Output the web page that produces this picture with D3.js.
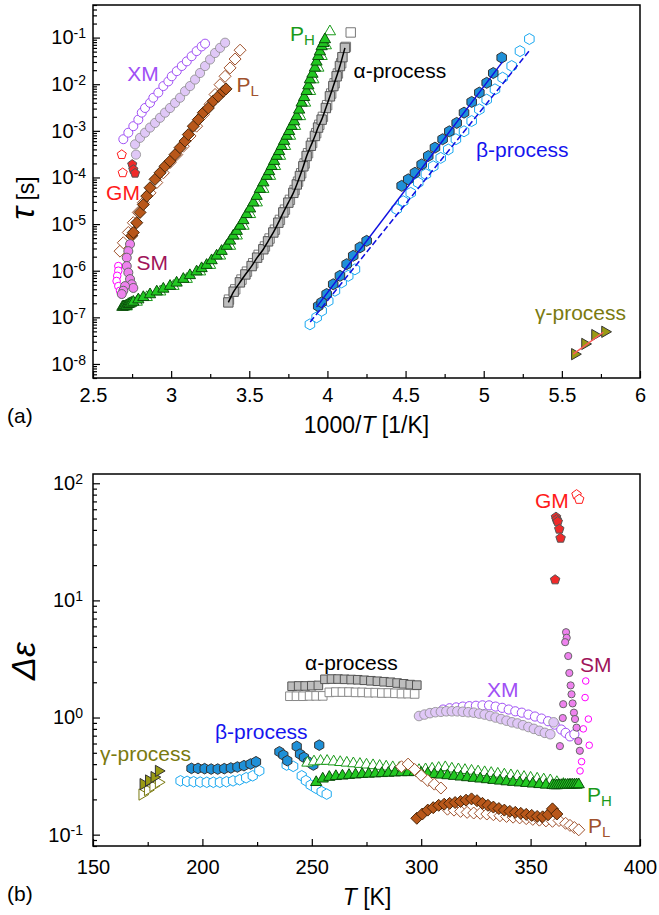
<!DOCTYPE html>
<html>
<head>
<meta charset="utf-8">
<script src="https://cdn.jsdelivr.net/npm/d3@7"></script>
<style>
  body { margin: 0; background: #fff; }
</style>
</head>
<body>
<div id="chart"></div>
<script>
// ---------- tick labels ----------
const topXTicks = [2.5, 3, 3.5, 4, 4.5, 5, 5.5, 6];
const topXMinor = [2.75, 3.25, 3.75, 4.25, 4.75, 5.25, 5.75];
const topYExp = [-8, -7, -6, -5, -4, -3, -2, -1];
const botXTicks = [150, 200, 250, 300, 350, 400];
const botXMinor = [175, 225, 275, 325, 375];
const botYExp = [-1, 0, 1, 2];

// ---------- panel (a): 1000/T [1/K] vs log10(tau [s]) ----------
const xmOpenX = [2.694,2.726,2.758,2.790,2.812,2.833,2.865,2.886,2.918,2.950,2.982,3.004,3.036,3.068,3.100,3.131,3.163,3.195,3.217];
const xmOpenLogTau = [-3.18,-3.04,-2.90,-2.76,-2.61,-2.51,-2.40,-2.29,-2.18,-2.04,-1.94,-1.83,-1.72,-1.61,-1.51,-1.40,-1.29,-1.19,-1.13];
const xmFillX = [2.775,2.769,2.801,2.833,2.865,2.897,2.929,2.961,2.993,3.025,3.057,3.089,3.121,3.153,3.185,3.217,3.249,3.281,3.313,3.345];
const xmFillLogTau = [-3.51,-3.29,-3.15,-3.04,-2.93,-2.83,-2.72,-2.61,-2.51,-2.40,-2.29,-2.15,-2.04,-1.90,-1.76,-1.61,-1.47,-1.33,-1.22,-1.11];

const gmOpenX = [2.684, 2.690];
const gmOpenLogTau = [-3.51, -3.90];
const gmFillX = [2.751, 2.758, 2.769];
const gmFillLogTau = [-3.72, -3.83, -3.91];

const plOpenX = [2.673,2.694,2.726,2.758,2.790,2.822,2.865,2.908,2.950,2.993,3.036,3.078,3.121,3.163,3.206,3.249,3.281,3.313,3.345,3.377,3.409,3.441];
const plOpenLogTau = [-5.58,-5.40,-5.18,-4.97,-4.75,-4.54,-4.33,-4.11,-3.90,-3.68,-3.51,-3.33,-3.11,-2.90,-2.65,-2.43,-2.22,-2.01,-1.83,-1.65,-1.46,-1.27];
const plFillX = [2.748,2.758,2.780,2.801,2.822,2.844,2.865,2.897,2.929,2.961,2.993,3.025,3.057,3.089,3.110,3.142,3.174,3.206,3.238,3.270,3.302,3.334,3.351];
const plFillLogTau = [-5.25,-5.18,-4.97,-4.75,-4.58,-4.40,-4.22,-4.04,-3.90,-3.76,-3.65,-3.51,-3.36,-3.22,-3.08,-2.90,-2.76,-2.61,-2.51,-2.36,-2.26,-2.15,-2.10];

const smOpenX = [2.662,2.662,2.655,2.651,2.662,2.673];
const smOpenLogTau = [-5.90,-6.00,-6.11,-6.22,-6.33,-6.43];
const smFillX = [2.737,2.726,2.716,2.716,2.726,2.737,2.748,2.758,2.705,2.694,2.684];
const smFillLogTau = [-5.43,-5.58,-5.72,-5.90,-6.04,-6.18,-6.29,-6.37,-6.33,-6.43,-6.50];

const phOpenX = [2.716,2.780,2.844,2.930,3.015,3.100,3.185,3.249,3.313,3.377,3.420,3.463,3.505,3.548,3.590,3.633,3.665,3.697,3.729,3.761,3.793,3.825,3.857,3.889,3.910,3.942,3.963,3.990,4.016];
const phOpenLogTau = [-6.77,-6.67,-6.57,-6.45,-6.33,-6.18,-6.02,-5.88,-5.68,-5.47,-5.25,-5.04,-4.79,-4.54,-4.25,-3.97,-3.76,-3.54,-3.33,-3.11,-2.90,-2.69,-2.40,-2.15,-1.90,-1.65,-1.40,-1.17,-0.87];
const phFillX = [2.688,2.694,2.700,2.710,2.715,2.726,2.735,2.745,2.758,2.790,2.822,2.865,2.908,2.950,2.993,3.035,3.078,3.120,3.163,3.195,3.227,3.259,3.291,3.323,3.355,3.377,3.398,3.420,3.441,3.462,3.483,3.505,3.526,3.547,3.568,3.590,3.611,3.627,3.643,3.659,3.675,3.691,3.707,3.723,3.739,3.755,3.771,3.787,3.803,3.819,3.835,3.851,3.867,3.878,3.888,3.904,3.920,3.930,3.941,3.952,3.963,3.974,3.984];
const phFillLogTau = [-6.78,-6.77,-6.77,-6.76,-6.75,-6.72,-6.71,-6.69,-6.67,-6.62,-6.57,-6.51,-6.45,-6.39,-6.33,-6.26,-6.18,-6.10,-6.02,-5.95,-5.88,-5.78,-5.68,-5.58,-5.47,-5.36,-5.25,-5.15,-5.04,-4.92,-4.79,-4.67,-4.54,-4.40,-4.25,-4.11,-3.97,-3.87,-3.76,-3.65,-3.54,-3.44,-3.33,-3.22,-3.11,-3.01,-2.90,-2.80,-2.69,-2.55,-2.40,-2.28,-2.15,-2.03,-1.90,-1.78,-1.65,-1.52,-1.40,-1.30,-1.19,-1.12,-1.04];

const alphaOpenX = [3.37,3.41,3.45,3.485,3.525,3.56,3.60,3.63,3.664,3.696,3.728,3.76,3.79,3.812,3.832,3.854,3.876,3.902,3.928,3.948,3.971,3.998,4.024,4.046,4.067,4.088,4.118,4.149];
const alphaOpenLogTau = [-6.62,-6.40,-6.19,-6.02,-5.84,-5.66,-5.48,-5.31,-5.12,-4.91,-4.69,-4.48,-4.27,-4.09,-3.91,-3.70,-3.48,-3.26,-3.05,-2.87,-2.70,-2.45,-2.20,-1.98,-1.77,-1.55,-1.20,-0.89];
const alphaFillX = [3.366,3.40,3.44,3.475,3.515,3.55,3.59,3.62,3.654,3.686,3.718,3.75,3.782,3.804,3.824,3.846,3.867,3.894,3.920,3.94,3.963,3.99,4.016,4.038,4.059,4.080,4.096,4.112];
const alphaFillLogTau = [-6.68,-6.45,-6.25,-6.08,-5.90,-5.72,-5.54,-5.37,-5.18,-4.97,-4.75,-4.54,-4.33,-4.15,-3.97,-3.76,-3.54,-3.32,-3.11,-2.93,-2.76,-2.51,-2.26,-2.04,-1.83,-1.61,-1.42,-1.22];

const betaOpenX = [3.888,3.931,3.963,4.005,4.048,4.091,4.133,4.176,4.443,4.485,4.533,4.581,4.630,4.677,4.725,4.773,4.822,4.874,4.923,4.972,5.019,5.072,5.121,5.179,5.232,5.292];
const betaOpenLogTau = [-7.15,-7.00,-6.86,-6.65,-6.43,-6.25,-6.11,-5.97,-4.68,-4.51,-4.33,-4.11,-3.93,-3.76,-3.58,-3.40,-3.18,-3.01,-2.79,-2.54,-2.33,-2.11,-1.86,-1.61,-1.29,-1.03];
const betaFillX = [3.941,3.963,3.995,4.037,4.080,4.123,4.165,4.208,4.251,4.475,4.517,4.560,4.603,4.645,4.688,4.737,4.780,4.827,4.874,4.923,4.972,5.019,5.061,5.115];
const betaFillLogTau = [-6.76,-6.68,-6.50,-6.29,-6.11,-5.86,-5.68,-5.50,-5.36,-4.18,-4.04,-3.90,-3.72,-3.54,-3.36,-3.18,-3.01,-2.83,-2.61,-2.38,-2.18,-1.97,-1.76,-1.43];

const gammaFillX = [5.583, 5.648, 5.712, 5.776];
const gammaFillLogTau = [-7.79, -7.57, -7.38, -7.31];

// fit lines
const betaFitX = [3.93, 5.12];
const betaFitLogTau = [-6.78, -1.52];
const betaOpenFitX = [3.89, 5.29];
const betaOpenFitLogTau = [-7.10, -1.29];
const gammaFitX = [5.573, 5.765];
const gammaFitLogTau = [-7.79, -7.32];

// ---------- panel (b): T [K] vs delta epsilon ----------
const gammaOpenT = [172.5, 175, 177.5, 180];
const gammaOpenDe = [0.22, 0.24, 0.26, 0.28];
const gammaFillT = [173, 175.5, 178, 180];
const gammaFillDe = [0.27, 0.29, 0.31, 0.35];

const betaOpenT = [190,193,196,199,202,205,208,211,214,217,220,223,226,238.5,241.5,245.4,247.3,249.5,251.9,254.5,256.8];
const betaOpenDe = [0.288,0.285,0.283,0.281,0.28,0.28,0.28,0.283,0.288,0.294,0.306,0.318,0.351,0.393,0.383,0.318,0.289,0.265,0.249,0.233,0.222];
const betaFillT = [195,198,201,204,207,210,213,216,219,222,224.5,235.2,237,238.8,243.1,244.6,246.4,248.4,250.7,253.4];
const betaFillDe = [0.368,0.368,0.366,0.363,0.363,0.366,0.371,0.378,0.388,0.401,0.419,0.51,0.478,0.428,0.567,0.487,0.457,0.419,0.393,0.581];

const alphaOpenT = [240,243,246,249,252,255,258,261,264,267,270,273,276,279,282,285,288,291,294,297];
const alphaOpenDe = [1.52,1.52,1.52,1.53,1.53,1.53,1.64,1.65,1.65,1.65,1.64,1.64,1.63,1.63,1.62,1.62,1.61,1.60,1.60,1.59];
const alphaFillT = [241,244,247,250,253,256,259,262,265,268,271,274,277,280,283,286,289,292,295,298];
const alphaFillDe = [1.85,1.86,1.86,1.87,1.88,2.12,2.13,2.13,2.12,2.11,2.10,2.08,2.06,2.04,2.02,2.00,1.97,1.94,1.91,1.89];

const phOpenT = [248,251,254,257,260,263,266,269,272,275,278,281,284,287,290,293,296,299,302,305,308,311,314,317,320,323,326,329,332,335,338,341,344,347,350,353,356,359,362,365,368,371];
const phOpenDe = [0.41,0.42,0.425,0.425,0.42,0.415,0.41,0.405,0.40,0.395,0.39,0.385,0.38,0.375,0.37,0.365,0.36,0.355,0.36,0.365,0.37,0.375,0.365,0.36,0.355,0.35,0.345,0.34,0.335,0.33,0.325,0.32,0.315,0.31,0.305,0.30,0.295,0.29,0.28,0.27,0.265,0.265];
const phFillT = [252,255,258,261,264,267,270,273,276,279,282,285,288,291,294,297,300,303,306,309,312,315,318,321,324,327,330,333,336,339,342,345,348,351,354,357,360,361,362,363,364,365,366,367,368,369,370,371,372];
const phFillDe = [0.28,0.30,0.31,0.315,0.318,0.322,0.325,0.328,0.33,0.332,0.334,0.336,0.338,0.34,0.34,0.342,0.336,0.332,0.328,0.324,0.32,0.316,0.312,0.308,0.304,0.30,0.296,0.292,0.288,0.284,0.281,0.278,0.275,0.272,0.269,0.266,0.264,0.263,0.263,0.264,0.264,0.265,0.265,0.266,0.266,0.267,0.267,0.268,0.268];

const plOpenT = [291,294,297,300,303,306,309,312,315,318,321,324,327,330,333,336,339,342,345,348,351,354,357,360,363,366,368,370,372];
const plOpenDe = [0.38,0.40,0.36,0.32,0.29,0.27,0.25,0.165,0.162,0.158,0.155,0.153,0.152,0.15,0.148,0.145,0.143,0.141,0.139,0.137,0.135,0.133,0.131,0.13,0.132,0.125,0.12,0.115,0.11];
const plFillT = [298,300.5,303,305.5,308,310.5,313,315.5,318,320.5,323,325.5,328,330.5,333,335.5,338,340.5,343,345.5,348,350.5,353,355.5,358,360,362];
const plFillDe = [0.138,0.15,0.162,0.17,0.178,0.182,0.185,0.188,0.192,0.197,0.202,0.195,0.185,0.178,0.172,0.167,0.162,0.158,0.155,0.152,0.149,0.146,0.143,0.142,0.148,0.166,0.15];

const xmOpenT = [310,313,316,319,322,325,328,331,334,337,340,343,346,349,352,355,358,361,364,366,368,370];
const xmOpenDe = [1.17,1.20,1.22,1.24,1.25,1.26,1.27,1.27,1.24,1.21,1.17,1.13,1.10,1.06,1.02,0.98,0.93,0.87,0.79,0.74,0.69,0.72];
const xmFillT = [299,301.5,304,306.5,309,311.5,314,316.5,319,321.5,324,326.5,329,331.5,334,336.5,339,341.5,344,346.5,349,351.5,354,356.5,359,360.5];
const xmFillDe = [1.03,1.06,1.09,1.11,1.12,1.13,1.13,1.13,1.12,1.11,1.10,1.08,1.06,1.03,1.00,0.97,0.94,0.91,0.89,0.86,0.83,0.80,0.77,0.74,0.72,0.91];

const smOpenT = [375.2,374.9,376.4,374.1,376.8,373.3,372.6];
const smOpenDe = [2.05,1.48,0.97,0.80,0.58,0.42,0.35];
const smFillT = [366.2,366.5,365.8,367.2,367.7,368.3,368.7,364.9,369.2,364.7,369.8,370.3,371,363.4,371.8,372.5];
const smFillDe = [5.35,4.8,4.4,3.35,2.4,1.88,1.58,1.30,1.32,0.99,1.10,0.97,0.82,0.57,0.63,0.52];

const gmOpenT = [371, 372.2];
const gmOpenDe = [80, 73];
const gmFillT = [361.6,361.9,362.4,363.1,363.7,361.2];
const gmFillDe = [51.4,49,47,40.6,34,15.0];

// ---------- layout ----------
const FONT = '"Liberation Sans", Arial, Helvetica, sans-serif';
let width = 659, height = 915;
let left = 93, right = 640;

let svg = d3.select("#chart").append("svg")
  .attr("width", width)
  .attr("height", height)
  .attr("font-family", FONT);

let xTop = d3.scaleLinear().domain([2.5, 6]).range([left, right]);
let yTop = d3.scaleLog().domain([5e-9, 0.5]).range([378, 5]);
let xBot = d3.scaleLinear().domain([150, 400]).range([left, right]);
let yBot = d3.scaleLog().domain([0.08, 120]).range([846, 474]);

// marker shapes around (0,0)
function poly(n, r, rot) {
  let p = d3.range(n).map(i => {
    let a = rot + i * 2 * Math.PI / n;
    return [(r * Math.sin(a)).toFixed(2), (-r * Math.cos(a)).toFixed(2)];
  });
  return "M" + p.join("L") + "Z";
}
let shapes = {
  circle: r => `M${r},0A${r},${r} 0 1,1 ${-r},0A${r},${r} 0 1,1 ${r},0Z`,
  square: r => poly(4, r * Math.SQRT2, Math.PI / 4),
  diamond: r => poly(4, r, 0),
  triangle: r => poly(3, r, 0),
  triRight: r => poly(3, r, Math.PI / 2),
  hexagon: r => poly(6, r, 0),
  pentagon: r => poly(5, r, 0)
};

let tau = v => Math.pow(10, v);

function points(xs, ys, xs2, ys2, shape, r, fill, stroke, sw) {
  svg.append("g").selectAll("path")
    .data(xs.map((x, i) => [x, ys[i]]))
    .join("path")
    .attr("transform", d => `translate(${xs2(d[0])},${ys2(d[1])})`)
    .attr("d", shapes[shape](r))
    .attr("fill", fill)
    .attr("stroke", stroke)
    .attr("stroke-width", sw || 1);
}

function axes(x, y, y0, y1, xTicks, xMinor, yExp, xPad, yPad) {
  svg.append("g").attr("transform", `translate(0,${y1})`)
    .call(d3.axisBottom(x).tickValues(xMinor).tickSize(-4).tickSizeOuter(0).tickFormat(""))
    .call(g => g.select(".domain").remove())
    .call(g => g.selectAll("line").attr("stroke-width", 1.2));
  svg.append("g").attr("transform", `translate(0,${y1})`)
    .call(d3.axisBottom(x).tickValues(xTicks).tickSize(-7).tickSizeOuter(0)
      .tickPadding(xPad).tickFormat(d3.format("~g")))
    .call(g => g.select(".domain").remove())
    .call(g => g.selectAll("line").attr("stroke-width", 1.2))
    .attr("font-size", 20).attr("font-family", FONT);

  let minor = y.ticks(30).filter(v => Math.abs(Math.log10(v) - Math.round(Math.log10(v))) > 1e-6);
  svg.append("g").attr("transform", `translate(${left},0)`)
    .call(d3.axisLeft(y).tickValues(minor).tickSize(-4).tickSizeOuter(0).tickFormat(""))
    .call(g => g.select(".domain").remove())
    .call(g => g.selectAll("line").attr("stroke-width", 1.2));
  let gy = svg.append("g").attr("transform", `translate(${left},0)`)
    .call(d3.axisLeft(y).tickValues(yExp.map(e => Math.pow(10, e))).tickSize(-7)
      .tickSizeOuter(0).tickPadding(yPad).tickFormat(""))
    .call(g => g.select(".domain").remove())
    .call(g => g.selectAll("line").attr("stroke-width", 1.2))
    .attr("font-size", 20).attr("font-family", FONT);
  gy.selectAll(".tick text").each(function(d) {
    let t = d3.select(this);
    t.append("tspan").text("10");
    t.append("tspan").attr("dy", "-0.45em").attr("font-size", 14)
      .text(Math.round(Math.log10(d)));
  });

  svg.append("rect")
    .attr("x", left).attr("y", y0)
    .attr("width", right - left).attr("height", y1 - y0)
    .attr("fill", "none").attr("stroke", "#000").attr("stroke-width", 1.5);
}

function label(x, y, txt, color, size, sub) {
  let t = svg.append("text").attr("x", x).attr("y", y)
    .attr("fill", color).attr("font-size", size).text(txt);
  if (sub) t.append("tspan").attr("dy", 4).attr("font-size", 15).text(sub);
  return t;
}

// ================= panel (a) =================
points(plOpenX, plOpenLogTau.map(tau), xTop, yTop, "diamond", 6, "#fff", "#a0522d");
points(plFillX, plFillLogTau.map(tau), xTop, yTop, "diamond", 6, "#b8571a", "#4a2608");
points(phOpenX, phOpenLogTau.map(tau), xTop, yTop, "triangle", 6.5, "#fff", "#1a9a1a");
points(phFillX, phFillLogTau.map(tau), xTop, yTop, "triangle", 6.5, "#22c822", "#0b4f0b");
points(alphaOpenX, alphaOpenLogTau.map(tau), xTop, yTop, "square", 4.7, "#fff", "#777");
points(alphaFillX, alphaFillLogTau.map(tau), xTop, yTop, "square", 4.7, "#bdbdbd", "#555");

svg.append("path")
  .datum(alphaFillX.map((x, i) => [x, tau(alphaFillLogTau[i])]))
  .attr("d", d3.line().x(d => xTop(d[0])).y(d => yTop(d[1])).curve(d3.curveMonotoneX))
  .attr("fill", "none").attr("stroke", "#000").attr("stroke-width", 1.5);

points(betaOpenX, betaOpenLogTau.map(tau), xTop, yTop, "hexagon", 5.5, "#fff", "#1aa8f0");
points(betaFillX, betaFillLogTau.map(tau), xTop, yTop, "hexagon", 5.5, "#1e90d8", "#333");

svg.append("path")
  .datum(betaFitX.map((x, i) => [x, tau(betaFitLogTau[i])]))
  .attr("d", d3.line().x(d => xTop(d[0])).y(d => yTop(d[1])))
  .attr("fill", "none").attr("stroke", "#1010e0").attr("stroke-width", 1.5);
svg.append("path")
  .datum(betaOpenFitX.map((x, i) => [x, tau(betaOpenFitLogTau[i])]))
  .attr("d", d3.line().x(d => xTop(d[0])).y(d => yTop(d[1])))
  .attr("fill", "none").attr("stroke", "#1010e0").attr("stroke-width", 1.5)
  .attr("stroke-dasharray", "6,3");

points(xmOpenX, xmOpenLogTau.map(tau), xTop, yTop, "circle", 4.5, "#fff", "#a050f5");
points(xmFillX, xmFillLogTau.map(tau), xTop, yTop, "circle", 4.6, "#e0c8f7", "#8c8c8c", 0.8);
points(gmOpenX, gmOpenLogTau.map(tau), xTop, yTop, "pentagon", 4.8, "#fff", "#ff1a1a");
points(gmFillX, gmFillLogTau.map(tau), xTop, yTop, "pentagon", 4.8, "#f02a2a", "#555");
points(smOpenX, smOpenLogTau.map(tau), xTop, yTop, "circle", 3.8, "#fff", "#ff00ff");
points(smFillX, smFillLogTau.map(tau), xTop, yTop, "circle", 4.5, "#ee82ee", "#666");
points(gammaFillX, gammaFillLogTau.map(tau), xTop, yTop, "triRight", 6.5, "#9a9a14", "#333");

svg.append("path")
  .datum(gammaFitX.map((x, i) => [x, tau(gammaFitLogTau[i])]))
  .attr("d", d3.line().x(d => xTop(d[0])).y(d => yTop(d[1])))
  .attr("fill", "none").attr("stroke", "#ff5a5a").attr("stroke-width", 1.5);

axes(xTop, yTop, 5, 378, topXTicks, topXMinor, topYExp, 10, 7);

label(143, 81, "XM", "#a050f5", 21).attr("text-anchor", "middle");
label(236.5, 91.5, "P", "#a0522d", 21, "L");
label(123, 200, "GM", "#ff1a1a", 21).attr("text-anchor", "middle");
label(136.5, 270, "SM", "#a0145a", 21);
label(290, 41, "P", "#1a9a1a", 21, "H");
label(353.5, 78, "α-process", "#000", 21);
label(476, 157, "β-process", "#1515ee", 21);
label(535, 320, "γ-process", "#7a7a10", 21);

svg.append("text")
  .attr("transform", "translate(34,198) rotate(-90)")
  .attr("text-anchor", "middle")
  .call(t => t.append("tspan").attr("font-size", 34).attr("font-style", "italic").text("τ"))
  .call(t => t.append("tspan").attr("font-size", 23).text(" [s]"));

svg.append("text").attr("x", 366.5).attr("y", 433).attr("text-anchor", "middle")
  .attr("font-size", 23)
  .call(t => t.append("tspan").text("1000/"))
  .call(t => t.append("tspan").attr("font-style", "italic").text("T"))
  .call(t => t.append("tspan").text(" [1/K]"));

svg.append("text").attr("x", 7).attr("y", 423).attr("font-size", 21).text("(a)");

// ================= panel (b) =================
points(alphaOpenT, alphaOpenDe, xBot, yBot, "square", 4.3, "#fff", "#888");
points(alphaFillT, alphaFillDe, xBot, yBot, "square", 4.3, "#bdbdbd", "#555");
points(betaOpenT, betaOpenDe, xBot, yBot, "hexagon", 5.3, "#fff", "#1aa8f0");
points(betaFillT, betaFillDe, xBot, yBot, "hexagon", 5.3, "#1e90d8", "#333");
points(gammaOpenT, gammaOpenDe, xBot, yBot, "triRight", 6.5, "#fff", "#7a7a10");
points(gammaFillT, gammaFillDe, xBot, yBot, "triRight", 6.5, "#9a9a14", "#333");
points(phOpenT, phOpenDe, xBot, yBot, "triangle", 6.5, "#fff", "#1a9a1a");
points(phFillT, phFillDe, xBot, yBot, "triangle", 6.5, "#22c822", "#0b4f0b");
points(plOpenT, plOpenDe, xBot, yBot, "diamond", 6, "#fff", "#a0522d");
points(plFillT, plFillDe, xBot, yBot, "diamond", 6, "#b8571a", "#4a2608");
points(xmOpenT, xmOpenDe, xBot, yBot, "circle", 4.6, "#fff", "#a050f5");
points(xmFillT, xmFillDe, xBot, yBot, "circle", 4.8, "#e0c8f7", "#8c8c8c", 0.8);
points(smOpenT, smOpenDe, xBot, yBot, "circle", 3.3, "#fff", "#ff00ff");
points(smFillT, smFillDe, xBot, yBot, "circle", 3.6, "#ee82ee", "#666");
points(gmOpenT, gmOpenDe, xBot, yBot, "pentagon", 5, "#fff", "#ff1a1a");
points(gmFillT, gmFillDe, xBot, yBot, "pentagon", 5, "#f02a2a", "#555");

axes(xBot, yBot, 474, 846, botXTicks, botXMinor, botYExp, 14, 10);

label(535, 508, "GM", "#ff1a1a", 21);
label(580, 672, "SM", "#a0145a", 21);
label(487, 697, "XM", "#a050f5", 21);
label(305, 670, "α-process", "#000", 21);
label(215, 739, "β-process", "#1515ee", 21);
label(100, 761, "γ-process", "#7a7a10", 21);
label(587, 801.5, "P", "#1a9a1a", 21, "H");
label(588, 833, "P", "#a0522d", 21, "L");

svg.append("text")
  .attr("transform", "translate(35,661) rotate(-90)")
  .attr("text-anchor", "middle")
  .attr("font-size", 34).attr("font-style", "italic")
  .text("Δε");

svg.append("text").attr("x", 367).attr("y", 905).attr("text-anchor", "middle")
  .attr("font-size", 23)
  .call(t => t.append("tspan").attr("font-style", "italic").text("T"))
  .call(t => t.append("tspan").text(" [K]"));

svg.append("text").attr("x", 7).attr("y", 901).attr("font-size", 21).text("(b)");
</script>
</body>
</html>
